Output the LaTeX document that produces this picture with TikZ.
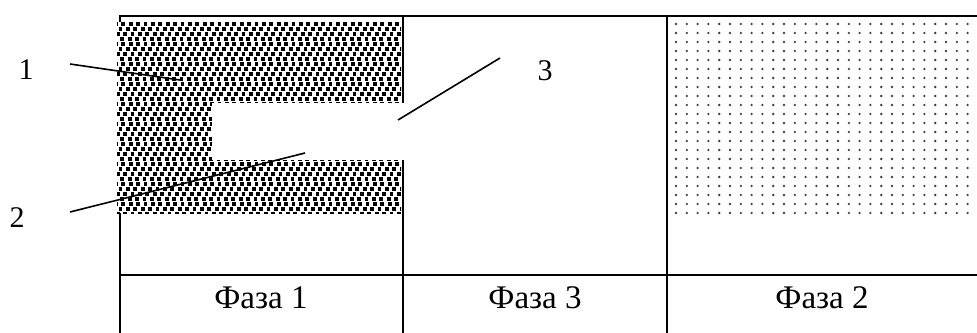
\documentclass[tikz,border=0pt]{standalone}
\usepackage{fontspec}
\setmainfont{Liberation Serif}
\begin{document}
\begin{tikzpicture}[x=1pt,y=-1pt,
  gridline/.style={line width=2.4pt},
  pointer/.style={line width=1.6pt},
  phase/.style={font=\fontsize{33}{36}\selectfont, inner sep=0pt},
  numlabel/.style={font=\fontsize{30}{34}\selectfont, inner sep=0pt}]
\useasboundingbox (0,0) rectangle (977,332);
% table lines
\draw[gridline] (120,334) -- (120,16) -- (990,16);
\draw[gridline] (403,16) -- (403,334);
\draw[gridline] (667,16) -- (667,334);
\draw[gridline] (120,275) -- (990,275);
% phase 1 pattern
\fill[white] (117,22) rectangle (401,213);
\begin{scope}
  \clip (117,22) rectangle (401,213);
  \foreach \j in {0,...,38} {
    \foreach \i in {0,...,39} {
      \fill ({114+7.4*\i+3.7*mod(\j,2)+0.9*mod(\j,4)}, {22+5*\j}) rectangle +(3.8,3.8);
    }
  }
\end{scope}
% slot of phase 3
\fill[white] (212,103) rectangle (406,160);
% phase 2 dots
\foreach \j in {0,...,21} {
  \foreach \i in {0,...,28} {
    \fill[black!75] ({676+10.8*\i},{24+9*\j}) circle (1.3);
  }
}
% phase labels
\node[phase] (f1) at (261,298) {Фаза 1};
\node[phase] (f3) at (535,298) {Фаза 3};
\node[phase] (f2) at (822,298) {Фаза 2};
% number labels
\node[numlabel] (l1) at (26,70) {1};
\node[numlabel] (l2) at (17,218) {2};
\node[numlabel] (l3) at (545,71) {3};
% pointer ends
\coordinate (a1) at (70,64);
\coordinate (b1) at (180,80);
\coordinate (a2) at (70,212);
\coordinate (b2) at (305,153);
\coordinate (a3) at (500,58);
\coordinate (b3) at (398,120);
\draw[pointer] (a1) -- (b1);
\draw[pointer] (a2) -- (b2);
\draw[pointer] (a3) -- (b3);
\end{tikzpicture}
\end{document}
